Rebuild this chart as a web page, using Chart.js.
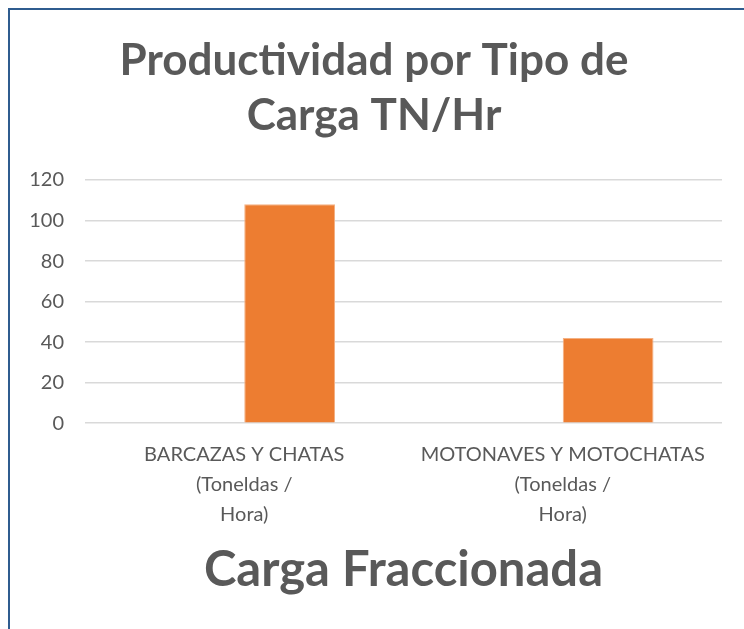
<!DOCTYPE html>
<html>
<head>
<meta charset="utf-8">
<script src="https://cdn.jsdelivr.net/npm/chart.js@4"></script>
<style>
  html, body { margin: 0; padding: 0; background: #fff; }
  #marco {
    position: absolute; left: 8px; top: 8px; width: 800px; height: 700px;
    border-left: 2px solid #2F5C8F; border-top: 2px solid #2F5C8F;
  }
  #wrap { position: absolute; left: 0; top: 0; width: 744px; height: 629px; }
</style>
</head>
<body>
<div id="marco"></div>
<div id="wrap"><canvas id="myChart"></canvas></div>
<script>
const categorias = [
  ['BARCAZAS Y CHATAS', '(Toneldas /', 'Hora)'],
  ['MOTONAVES Y MOTOCHATAS', '(Toneldas /', 'Hora)']
];
const serieVacia = [null, null];
const productividad = [108, 42];
const ticksY = [0, 20, 40, 60, 80, 100, 120];

const gris = '#595959';
const ctx = document.getElementById('myChart');

new Chart(ctx, {
  type: 'bar',
  data: {
    labels: categorias,
    datasets: [
      {
        label: 'Serie 1',
        data: serieVacia,
        backgroundColor: '#4472C4'
      },
      {
        label: 'Productividad',
        data: productividad,
        backgroundColor: '#ED7D31',
        borderColor: '#F4B183',
        borderWidth: 1
      }
    ]
  },
  options: {
    responsive: true,
    maintainAspectRatio: false,
    animation: false,
    categoryPercentage: 0.57,
    barPercentage: 1,
    layout: {
      padding: { left: 26, right: 22, top: 0, bottom: 29 }
    },
    scales: {
      x: {
        grid: { display: false },
        border: { display: false },
        ticks: {
          color: gris,
          font: { family: 'Lato', size: 20, lineHeight: 1.5 },
          padding: 8,
          maxRotation: 0,
          autoSkip: false
        },
        title: {
          display: true,
          text: 'Carga Fraccionada',
          color: gris,
          font: { family: 'Lato', size: 49, weight: 'bold' },
          padding: { top: 4, bottom: 0 }
        }
      },
      y: {
        min: ticksY[0],
        max: ticksY[ticksY.length - 1],
        afterBuildTicks: axis => { axis.ticks = ticksY.map(v => ({ value: v })); },
        afterFit: axis => { axis.width = 59; },
        grid: { color: '#D9D9D9', lineWidth: 1.5, drawTicks: false },
        border: { display: false },
        ticks: {
          color: gris,
          font: { family: 'Lato', size: 20 },
          padding: 21
        }
      }
    },
    plugins: {
      legend: { display: false },
      tooltip: { enabled: false },
      title: {
        display: true,
        text: ['Productividad por Tipo de', 'Carga TN/Hr'],
        color: gris,
        font: { family: 'Lato', size: 44, weight: 'bold', lineHeight: 1.25 },
        padding: { top: 33, bottom: 37 }
      }
    }
  }
});
</script>
</body>
</html>
